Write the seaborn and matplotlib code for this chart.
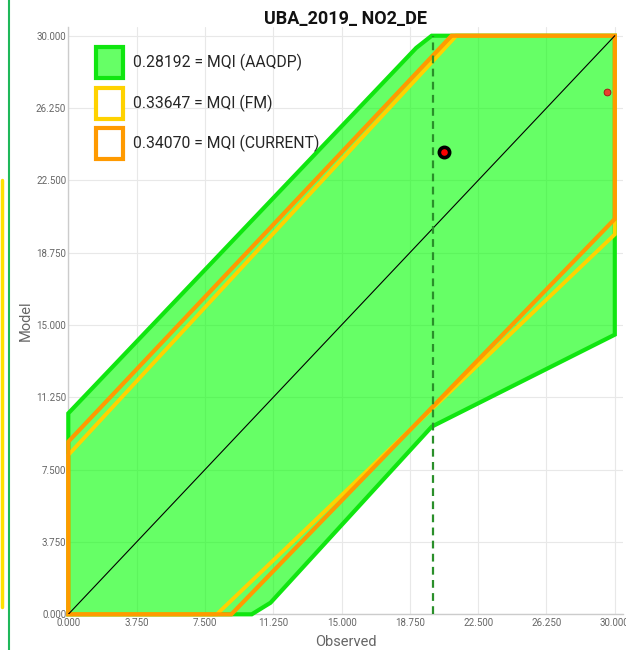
import numpy as np
import matplotlib
matplotlib.use("Agg")
import matplotlib.pyplot as plt
import seaborn as sns
from matplotlib.patches import Patch
from matplotlib.lines import Line2D

# ============================================================
# DATA
# ============================================================

title = "UBA_2019_ NO2_DE"

# MQI values for the three uncertainty schemes
mqi_names = ["AAQDP", "FM", "CURRENT"]
mqi_values = [0.28192, 0.33647, 0.34070]

# acceptance area polygons (observed, model)
aaqdp_x = [0, 10.07, 11.1, 19.95, 30.0, 30.0, 19.95, 19.1, 0]
aaqdp_y = [0, 0, 0.6, 9.73, 14.5, 30.0, 30.0, 29.37, 10.42]

fm_x = [0, 8.15, 30.0, 30.0, 21.3, 0]
fm_y = [0, 0, 19.7, 30.0, 30.0, 8.26]

current_x = [0, 8.95, 30.0, 30.0, 21.04, 0]
current_y = [0, 0, 20.5, 30.0, 30.0, 8.95]

# 1:1 line and limit value
diag = [0, 30]
limit_value = 20.0

# stations
main_station_obs = [20.62]
main_station_mod = [23.97]
other_obs = [29.55]
other_mod = [27.08]

ticks = [0, 3.75, 7.5, 11.25, 15, 18.75, 22.5, 26.25, 30]

# ============================================================
# STYLE
# ============================================================

sns.set_theme(style="whitegrid")
plt.rcParams["font.family"] = ["Roboto", "DejaVu Sans"]

green_edge = "#10e610"
green_face = (0.0, 1.0, 0.0, 0.6)
yellow = "#ffd200"
orange = "#ff9a00"

fig = plt.figure(figsize=(6.26, 6.5), dpi=100)
ax = fig.add_axes([0.1091, 0.0549, 0.8861, 0.9035])

# ============================================================
# PLOT
# ============================================================

ax.fill(aaqdp_x, aaqdp_y, facecolor=green_face, edgecolor=green_edge,
        linewidth=3.0, clip_on=False, zorder=2)
ax.fill(fm_x, fm_y, facecolor="none", edgecolor=yellow,
        linewidth=2.8, clip_on=False, zorder=3)
ax.fill(current_x, current_y, facecolor="none", edgecolor=orange,
        linewidth=3.0, clip_on=False, zorder=4)

sns.lineplot(x=diag, y=diag, color="black", linewidth=0.8, ax=ax, zorder=5)
ax.plot([limit_value, limit_value], diag, color="#2a8f2a", linewidth=1.6,
        dashes=(3.5, 2.4), zorder=5)

sns.scatterplot(x=other_obs, y=other_mod, color="#e8402e", edgecolor="#a01010",
                linewidth=0.6, s=24, ax=ax, zorder=6)
sns.scatterplot(x=main_station_obs, y=main_station_mod, color="red",
                edgecolor="black", linewidth=2.6, s=55, ax=ax, zorder=7)

ax.set_xlim(0, 30.45)
ax.set_ylim(0, 30.45)
ax.set_xticks(ticks)
ax.set_yticks(ticks)
ax.set_xticklabels([f"{t:.3f}" for t in ticks])
ax.set_yticklabels([f"{t:.3f}" for t in ticks])
ax.tick_params(axis="both", labelsize=7, colors="#666666", pad=1.5, length=0)
ax.tick_params(axis="x", pad=2.5)
ax.grid(True, color="#e8e8e8", linewidth=0.8)
ax.set_axisbelow(True)

for side in ["top", "right"]:
    ax.spines[side].set_visible(False)
for side in ["left", "bottom"]:
    ax.spines[side].set_color("#cccccc")
    ax.spines[side].set_linewidth(1.0)
    ax.spines[side].set_zorder(1)

ax.set_xlabel("Observed", fontsize=10.5, color="#666666", labelpad=5)
ax.set_ylabel("Model", fontsize=10.5, color="#666666", labelpad=2)
ax.set_title(title, fontsize=13, fontweight="bold", color="#111111", pad=2)

handles = [
    Patch(facecolor=green_face, edgecolor=green_edge, linewidth=3.0),
    Patch(facecolor="white", edgecolor=yellow, linewidth=3.0),
    Patch(facecolor="white", edgecolor=orange, linewidth=3.0),
]
labels = [f"{v:.5f} = MQI ({n})" for v, n in zip(mqi_values, mqi_names)]
ax.legend(handles, labels, loc="upper left", bbox_to_anchor=(0.05, 0.966),
          fontsize=11.3, frameon=False, handlelength=1.72, handleheight=2.66,
          labelspacing=0.61, handletextpad=0.65, borderaxespad=0, borderpad=0)

# page decorations on the left of the screenshot
fig.add_artist(Line2D([0.0024, 0.0024], [0.066, 0.723], color="#ffe100",
                      linewidth=2.5, transform=fig.transFigure))
fig.add_artist(Line2D([0.0147, 0.0147], [0.0, 1.0], color="#1fb85a",
                      linewidth=1.5, transform=fig.transFigure))

plt.savefig("out.png", dpi=100)
